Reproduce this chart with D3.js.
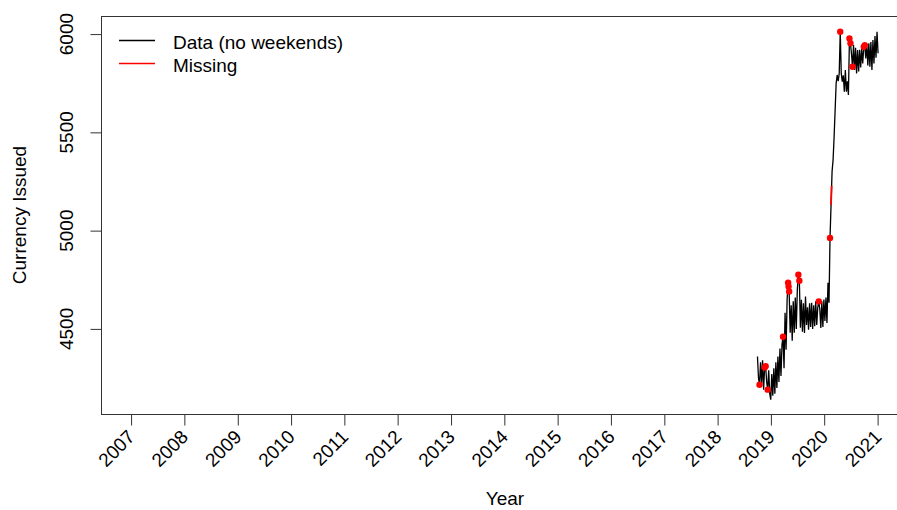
<!DOCTYPE html>
<html>
<head>
<meta charset="utf-8">
<script src="https://cdn.jsdelivr.net/npm/d3@7"></script>
<style>
  html, body { margin: 0; padding: 0; background: #fff; }
  svg { display: block; font-family: "Liberation Sans", Arial, sans-serif; }
</style>
</head>
<body>
<svg id="chart" width="897" height="510"></svg>
<script>
// weekly readings (one per monday) starting from firstWeek
var firstWeek = "2018-10-01";
var currencyValues = [
	4360, 4250, 4216, 4330, 4220, 4340, 4190, 4303, 4310, 4230,
	4191, 4290, 4170, 4140, 4270, 4160, 4300, 4170, 4330, 4200,
	4360, 4230, 4400, 4260, 4420, 4460, 4300, 4582, 4394, 4650,
	4735, 4690, 4480, 4620, 4440, 4640, 4480, 4660, 4500, 4700,
	4776, 4745, 4506, 4648, 4486, 4630, 4479, 4665, 4520, 4610,
	4496, 4630, 4510, 4633, 4500, 4620, 4513, 4640, 4520, 4610,
	4640, 4600, 4505, 4640, 4510, 4650, 4540, 4660, 4530, 4735,
	4633, 4963, 5131, 5300, 5360, 5478, 5614, 5750, 5792, 5760,
	5800, 6012, 5800, 5758, 5790, 5707, 5817, 5707, 5760, 5690,
	5978, 5953, 5900, 5834, 5944, 5817, 5930, 5800, 5919, 5810,
	5920, 5830, 5925, 5850, 5935, 5944, 5876, 5950, 5840, 5953,
	5834, 5960, 5817, 5970, 5850, 5990, 5880, 6012, 5902
];

// missing days (red points)
var missingDates = [
	"2018-10-15", "2018-11-19", "2018-11-26", "2018-12-10", "2019-03-25",
	"2019-04-29", "2019-05-02", "2019-05-06", "2019-07-08", "2019-07-15",
	"2019-11-25", "2020-02-10", "2020-04-20", "2020-06-22", "2020-06-29",
	"2020-07-13", "2020-09-28", "2020-10-05"
];
var missingValues = [
	4216, 4303, 4310, 4191, 4460,
	4735, 4716, 4690, 4776, 4745,
	4640, 4963, 6012, 5978, 5953,
	5834, 5935, 5944
];

// missing run drawn as a red line
var missingRunDates = ["2020-02-17", "2020-02-21"];
var missingRunValues = [5131, 5228];

var yearTicks = [2007, 2008, 2009, 2010, 2011, 2012, 2013, 2014, 2015, 2016, 2017, 2018, 2019, 2020, 2021];
var valueTicks = [4500, 5000, 5500, 6000];
var legendLabels = ["Data (no weekends)", "Missing"];
var legendColors = ["#000000", "#ff0000"];

var parseDate = d3.timeParse("%Y-%m-%d");

var svg = d3.select("#chart");
var plot = { left: 101, top: 16, right: 909, bottom: 414 };

// x domain as R left it (extended range, right side falls outside the picture)
var x = d3.scaleTime()
	.domain([parseDate("2006-06-09"), parseDate("2021-08-04")])
	.range([plot.left, plot.right]);

var y = d3.scaleLinear()
	.domain([4067, 6092])
	.range([plot.bottom, plot.top]);

var start = parseDate(firstWeek);
var series = currencyValues.map(function (v, i) {
	return { date: d3.timeWeek.offset(start, i), value: v };
});
var missing = missingDates.map(function (d, i) {
	return { date: parseDate(d), value: missingValues[i] };
});
var missingRun = missingRunDates.map(function (d, i) {
	return { date: parseDate(d), value: missingRunValues[i] };
});

var line = d3.line()
	.x(function (d) { return x(d.date); })
	.y(function (d) { return y(d.value); });

// data line
svg.append("path")
	.datum(series)
	.attr("d", line)
	.attr("fill", "none")
	.attr("stroke", "#000")
	.attr("stroke-width", 1.3)
	.attr("stroke-linejoin", "miter");

svg.append("path")
	.datum(missingRun)
	.attr("d", line)
	.attr("fill", "none")
	.style("stroke", "#ff0000")
	.style("stroke-width", 1.8);

svg.append("g").selectAll("circle")
	.data(missing)
	.enter().append("circle")
	.attr("cx", function (d) { return x(d.date); })
	.attr("cy", function (d) { return y(d.value); })
	.attr("r", 3.2)
	.attr("fill", "#ff0000");

// box (left, top, bottom; right side is off the canvas)
svg.append("rect")
	.attr("x", plot.left + 0.5)
	.attr("y", plot.top + 0.5)
	.attr("width", plot.right - plot.left)
	.attr("height", plot.bottom - plot.top)
	.attr("fill", "none")
	.attr("stroke", "#333")
	.attr("stroke-width", 1);

// x axis: yearly ticks with rotated labels
var xAxis = d3.axisBottom(x)
	.tickValues(yearTicks.map(function (yr) { return new Date(yr, 0, 1); }))
	.tickSize(11)
	.tickFormat("");

var gx = svg.append("g")
	.attr("transform", "translate(0," + (plot.bottom + 0.5) + ")")
	.call(xAxis);
gx.select(".domain").remove();
gx.selectAll(".tick line").attr("stroke", "#333");

svg.append("g").selectAll("text")
	.data(yearTicks)
	.enter().append("text")
	.attr("transform", function (yr) {
		return "translate(" + (x(new Date(yr, 0, 1)) + 5) + "," + 438 + ") rotate(-45)";
	})
	.attr("text-anchor", "end")
	.attr("font-size", 19)
	.attr("fill", "#000")
	.text(function (yr) { return yr; });

// y axis: vertical labels like R's default
var yAxis = d3.axisLeft(y)
	.tickValues(valueTicks)
	.tickSize(11)
	.tickFormat("");

var gy = svg.append("g")
	.attr("transform", "translate(" + (plot.left + 0.5) + ",0)")
	.call(yAxis);
gy.select(".domain").remove();
gy.selectAll(".tick line").attr("stroke", "#333");

svg.append("g").selectAll("text")
	.data(valueTicks)
	.enter().append("text")
	.attr("transform", function (v) {
		return "translate(73," + y(v) + ") rotate(-90)";
	})
	.attr("text-anchor", "middle")
	.attr("font-size", 19)
	.attr("fill", "#000")
	.text(function (v) { return v; });

// axis titles
svg.append("text")
	.attr("x", (plot.left + plot.right) / 2)
	.attr("y", 505)
	.attr("text-anchor", "middle")
	.attr("font-size", 19)
	.text("Year");

svg.append("text")
	.attr("transform", "translate(26," + (plot.top + plot.bottom) / 2 + ") rotate(-90)")
	.attr("text-anchor", "middle")
	.attr("font-size", 19)
	.text("Currency Issued");

// legend
var legendRows = svg.append("g").attr("class", "legend");

legendLabels.forEach(function (label, i) {
	var rowY = 40 + i * 23;
	legendRows.append("line")
		.attr("x1", 119)
		.attr("x2", 155)
		.attr("y1", rowY + 0.5)
		.attr("y2", rowY + 0.5)
		.style("stroke", legendColors[i])
		.style("stroke-width", 1.4);
	legendRows.append("text")
		.attr("x", 173)
		.attr("y", rowY + 8.5)
		.attr("font-size", 19)
		.text(label);
});
</script>
</body>
</html>
